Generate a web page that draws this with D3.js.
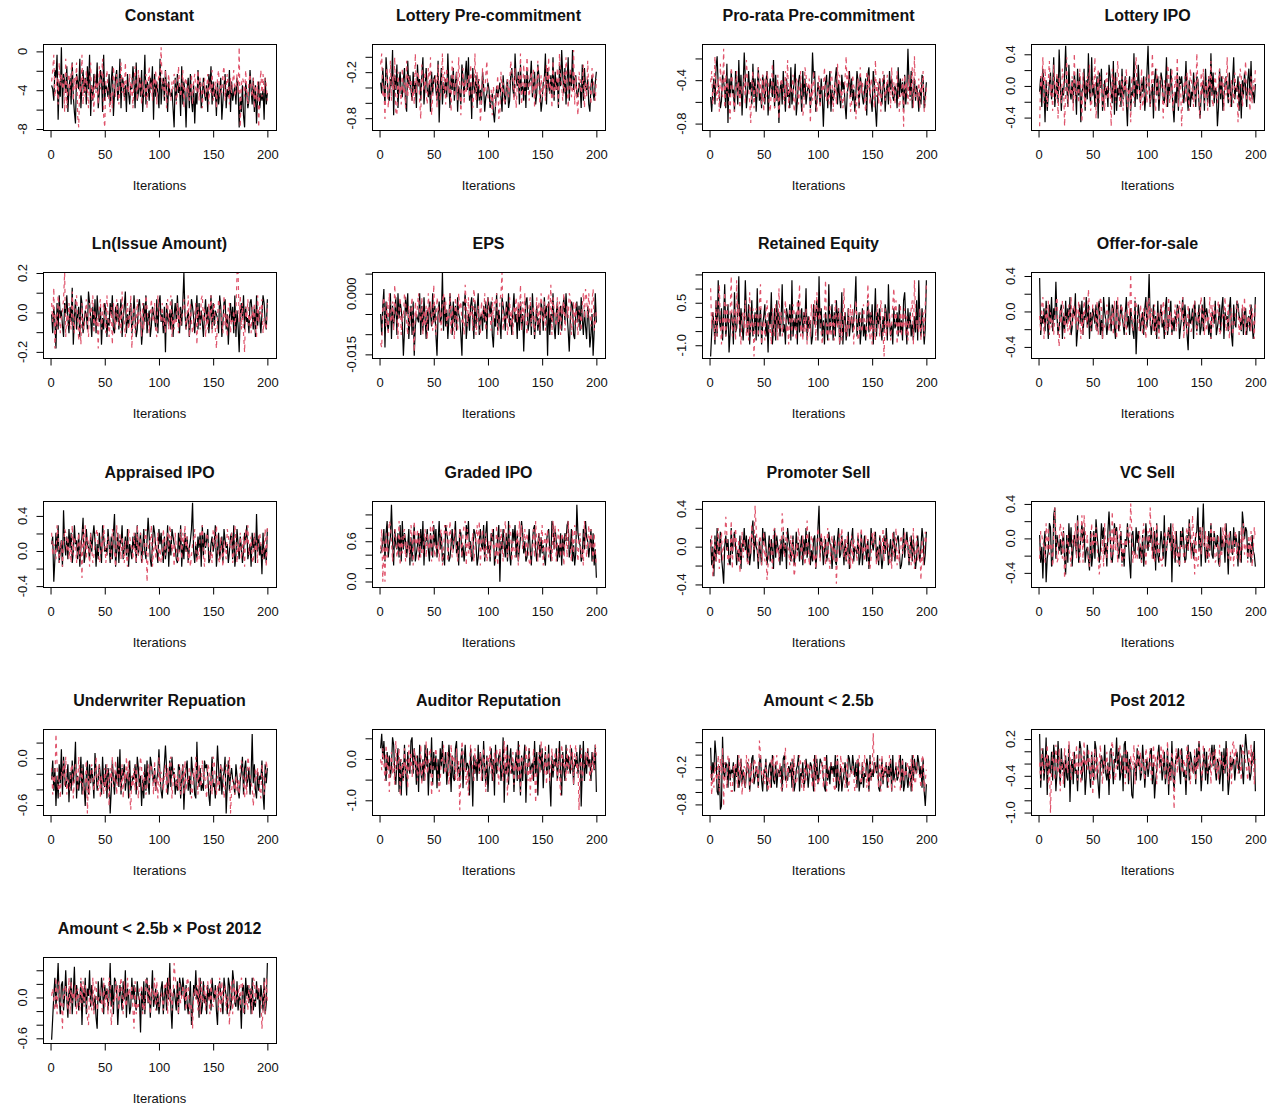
<!DOCTYPE html>
<html>
<head>
<meta charset="utf-8">
<script src="https://cdn.jsdelivr.net/npm/d3@7"></script>
<style>
  body { margin: 0; background: #fff; }
  svg { display: block; font-family: "Liberation Sans", Arial, sans-serif; }
</style>
</head>
<body>
<svg id="chart"></svg>
<script>
// Trace plots, two chains of 200 iterations per coefficient.
var panelTitles = ["Constant", "Lottery Pre-commitment", "Pro-rata Pre-commitment", "Lottery IPO",
  "Ln(Issue Amount)", "EPS", "Retained Equity", "Offer-for-sale",
  "Appraised IPO", "Graded IPO", "Promoter Sell", "VC Sell",
  "Underwriter Repuation", "Auditor Reputation", "Amount < 2.5b", "Post 2012",
  "Amount < 2.5b \u00d7 Post 2012"];

// plotted y range of each panel (bottom, top)
var yDomains = [[-8.1, 0.76], [-0.954, 0.167], [-0.859, -0.067], [-0.557, 0.53],
  [-0.231, 0.205], [-0.0159, 0.0054], [-1.45, 1.585], [-0.525, 0.445],
  [-0.41, 0.57], [-0.082, 1.2], [-0.427, 0.483], [-0.564, 0.434],
  [-0.728, 0.374], [-1.356, 0.725], [-0.97, 0.412], [-1.04, 0.364],
  [-0.669, 0.595]];

// value of code 0 and of code z in the chain strings below
var chainRanges = [[-10.58, 3.18], [-1.187, 0.467], [-1.067, 0.127], [-0.848, 0.848],
  [-0.336, 0.336], [-0.02258, 0.01358], [-2.53, 2.43], [-0.782, 0.722],
  [-0.652, 0.852], [-0.426, 1.686], [-0.668, 0.708], [-0.83, 0.77],
  [-1.048, 0.648], [-2.03, 1.05], [-1.294, 0.754], [-1.472, 0.576],
  [-0.888, 0.988]];

var yTickValues = [[0, -2, -4, -6, -8], [0, -0.2, -0.4, -0.6, -0.8], [-0.2, -0.4, -0.6, -0.8], [0.4, 0.2, 0, -0.2, -0.4],
  [0.2, 0.1, 0, -0.1, -0.2], [0.005, 0, -0.005, -0.01, -0.015], [1.5, 1, 0.5, 0, -0.5, -1], [0.4, 0.2, 0, -0.2, -0.4],
  [0.4, 0.2, 0, -0.2, -0.4], [1, 0.8, 0.6, 0.4, 0.2, 0], [0.4, 0.2, 0, -0.2, -0.4], [0.4, 0.2, 0, -0.2, -0.4],
  [0.2, 0, -0.2, -0.4, -0.6], [0.5, 0, -0.5, -1], [0.2, 0, -0.2, -0.4, -0.6, -0.8], [0.2, 0, -0.2, -0.4, -0.6, -0.8, -1],
  [0.4, 0.2, 0, -0.2, -0.4, -0.6]];

// "" = tick without label (R drops overlapping labels)
var yTickLabels = [["0", "", "-4", "", "-8"], ["", "-0.2", "", "", "-0.8"], ["", "-0.4", "", "-0.8"], ["0.4", "", "0.0", "", "-0.4"],
  ["0.2", "", "0.0", "", "-0.2"], ["", "0.000", "", "", "-0.015"], ["", "", "0.5", "", "", "-1.0"], ["0.4", "", "0.0", "", "-0.4"],
  ["0.4", "", "0.0", "", "-0.4"], ["", "", "0.6", "", "", "0.0"], ["0.4", "", "0.0", "", "-0.4"], ["0.4", "", "0.0", "", "-0.4"],
  ["", "0.0", "", "", "-0.6"], ["", "0.0", "", "-1.0"], ["", "", "-0.2", "", "", "-0.8"], ["0.2", "", "", "-0.4", "", "", "-1.0"],
  ["", "", "0.0", "", "", "-0.6"]];

var xTickValues = [0, 50, 100, 150, 200];
var nIter = 200;

// chain 1 (black) and chain 2 (red), one base-36 code per iteration
var blackChains = [
  "ihemkq9jfs cljgnbhkdo fb8ljhpcim gkdnhqaiel jhocgmkbqe ihfldjnagk mehpckjfib lgdihnjcoe gkfmbhqdji ekhn9lfjgc pdikemhbjg fhc7kelgia ndjg7hkcle bi8gdmhjcf kgeiblhndj fhajdgk9ei lchfmbjegi dkh7fbia7j gcemhdkbi8 fjcgeh9kdg",
  "ifmhcpkedj hr9kgnbilf ejmcaohkgd lfibnhjdkp chmgeialfj kgdo7hmcif jeqhbkgmdi lahfcnjeko gpdi8mhfkb jdgclhaefi gbdfa7cheg ieakfchjbd kmgeqjhlcn fhdkbmgijo ehlcfnkgad ijqcmhfkep dlgjbnhrkf mcipdlhrgj kfeihbndmh gjcahkfdil",
  "fbhkdnqigc eljhco8kfm ghbmjdpfla irkcgmhjdo fkbhnegcli djmagkhfpc lei8hjdmgb kfhcndgjoa ejlhbmfkdg ihcgrkmbej hdkf7gjlci mbhegkndjf clhjd9gimf kehbgmjcli fdhkalngeb mjc7fhkgdi lbgjdmhkfe ihcnfkgjbl dhsjfmcgke igbhdlkcfj",
  "gkcmh8jbfi lehpcgkdrj bhfksicnge jdlhamfk8g hmbjeqgdpf icgk9lhmbe jfhcnkgdoa lbhfjcmegk d7hkbgfqcj enhdjgkbfl shcgi9jmfk bgljedhpci fmhc8gdlbk ikgdhofbjc gelhckjd9f hjbmgdkcqf ldhg7cmekb fikhdlgcjp ehgkbi9jfl hcjmfoegdi",
  "hcjf8kdmgi ebkhmgcjfo 9gldhjbmkc fihdnkgbje lcmhfj9gdk ibgekhmdcj fkdhlbgjnc heikcfmgbd jlh9dkfmcg ibejhgdlck mfhcj7kgei dlbhkfmgcj ekshdgibfl jgchmdkeif bhlfjcgmdk eihgcmjbfk ldh9gkfjcm bie7hkgmdj fgcklhdjbm eigchmkfdl",
  "hcjn9kfdgm bjehlcmgki f7dlhmbgjc k7ehgfmcjd lgbidkhemf jc7hkfgrdl eibgmhckfj dlhgc7kjmb fhdjlgbkei mcghdjfkbl jhkc9gemdi fbljhdkgme gcimfhbjdk eh8gkldfjc mhbfjdgcki dlgj7kchfm ebhkcgjdil fmhd8gkjcb hkfjdlgcie bjg9ch7dmf",
  "8ejgbmdrhf kciqdgl9ej hboefjsdkg chrjelbgmd fjcpdhkbgi ldh9jgobfk cmfjdhqegb kiglcrdhfj bmehkdjgpc ifhbdlgjmc sfkdhbjgcq ehlcjdmgkb fobhjcfkdg iehlsdgjbf kdgchmejfl bhpdjgkfci eljcqhdgbk fgjdlehcmo hbkfjdgcie mcrhdkgbfr",
  "rchfjdlgbk fmdjgqhcei kbhdlfjgmc ejhn9dgkfl chgmekbidj hfkdjlcgbm igcfmhdkje bljdgkhfci mehcjgdbl7 fkhdgicjme jsgcfkdhbl dhkegbjmcf ilcgdhfkjb ehmdkgc8jf gjblhdfkce kdmgjhcfbi hflcegkdjm bighdjmc9k felkhgdjci jcghdkfbem",
  "hj7dkfmcgi bqhejdlgkc fmhidkbgjo celhgdkfjm ibhdkgcmjf gelhcjdkpb fkcihmdgje lbhfdjgkcm ehkcglfdio jdbhmkgfcl hkfcjdgmbi eljhgdckfm bhdkfjcgil sfchdjgkbm ekgilcdhjf hmbfkdgjcl ighcfjkdmb elhdjgcfki mdfhbkgjcp fjeh9kdgcl",
  "efhkcjmdgi qhbkgfjdlc mfjhdgkbic hlcegjdkfm bihkfcjgdl gkdhmfjceb ljhcdgkfim ehbkjdgcfl imfhcdkjgb dhkgflcjme gcjhkbdfil 7hfkgdjcme bgkhldjcfi mjehcdgkfb hklfcgjdie gdbhjkfcml fkhcgdjbie jhlmdfkcgb eqjhgcdkfm ihdgkcjbf8",
  "jch9kdmfgl eb7hkgjdcm fjlhcgdkbi hmgkdjcflo dkhgbjfcmi lhcfkdjgbm ekhgcjdlfi bmjhdgkcfl gidhkcjfme hlcgdjkbfm sekhcgjdfl ihbgkdcjme fkhcjdglbi jmdhgfkcel chkgdjbfmi gjldhckfbe kfmhcgjdil dhjkgbcfme ilhcgkdjfb ekgdhmjcfl",
  "jcg8hk7dfm lbcoqdjhfi ehkd9jcmgl bgjheocfim hlcfgdakbe kdnjgcfmil ehbkpjdcgm jlhdgkcfbi gmhc8jkfel hkdgcjbfmi fjhlgdkame cgkhdobfil hm7jgckfeb kglhcdjfni ehdgjkqflb jrhcgdkfme dkhgjcblfi hcmg9jkfel gjhbkdcpmi lkdhgcjfeb",
  "gldj9hbkfo cmhegkaidl fjqbhdgmck e9hlckfjgb nidgkhcmfe kbjh7dlgci fmeocjhkdg ibldfhgkcm jeh9gbkdlf cmkhfjdgio hdbgkpjcfl emhicgdkjb gk8fjldhcm ihcbqgejdf dljkhc9gme fbhpjdkcgi m7eldhjgfc khdbgimcjl egjchsfkdb idhglc8kfj",
  "qunsmhpkoi ltrjgmqend mhrkdpljst jqmgoerkhn hrlqdmjtgp kofnhqlsjm pgkrmeoihq sjlhnqfmrk mldqkaojnh rjpmhslgoe kmqhndrjlo phktbmjrgn qjmelphskd ohnrbkmqjl mhsjpdlrkq fmpkjrhaoi nlqhmsjdpk hrkoljqmgn lpjmraksho jqlnhpmkre",
  "ofkhqmcbj7 8rhgkjdlfi hkcjgmdfle ifdhkjcglm egjhdkmfci hlcgjkdmfe kdhigjclmf gfjhkdlcei jmchgkdfli dhkjgcmfle hlkjgdcmfi ekhjgmdlcf jcfhkgdmli hmjgkdlcfe kdhgljcmfi gkjhmdcfle ihkdjglcmf hjfgkmdlce kgdhjcmfli hmkgjdlc8e",
  "ufmqhltdok jphrnejslg qkmfoihrbl ngpjkemsqh lodirmjfpk hsqkgclomj rjhmdpqlgn mtkqhjoers jpgnldckmh qlohjrmfkn ilpqgmchko rlnhkpgjqd mhsjelonqk gqlikdmrhp nkjogqlsme jmqhpglkor lrkhnmgjpe qjsldhokmn hlpmjrqkgo uqnlhjpmse",
  "5bhmejqgck ldhogbjfmc ipekhdgl9j fmcjhoekgd hb8lgfmjck gjdhqekcml i9fkhdlgob jhcemgkfdl hg7jdlckmf kbhoegjdic fjlchkdmgq e8hjgdlcmk hmjdkfcgl9 dkhogjbmce lfhckgjdmi gkd9jlhfcm jhcmkdgolf eldhg8jkcm hkfjcmdgel gjbkhdmcfq"
];

var redChains = [
  "jmqfhkdoil hkbpcjlfmo ekhoa7jgqd kfmhcjoeib lgjdnhkpa7 jmhebgcnif lhdjogkeoh iglfkcjnhe mhkdjgflci ngjekhmdil kshjfmcilg ejhlkdgnif hmcjkfiegl djlhgmekic ikfhldjgme hjckmfigln eilhdkgjmf hlgs7ikjfm gdjlhfkcie j7hmflgkie",
  "nqeh8kmbgo dkgpa9lfhc mfiboekgjd hcqflkd8ni glfcmhp9ej ikbngdhqfl cmhfjaokeg ldph9gmcjf ikenhbfqdl hj7cmgfkoe dcg9hebfk8 alficdgjeh oljdmbhkfq cgnehpkdil fmbjgohcke hkdngpfjbo eigmcqkhdl fpjbhmegrc kd9ljfhnbi eoghcmkfdj",
  "jmdgqhekbo hfsclgjd9n kebhmfjcig gldpkhe8jm cihfngkdlb kfmjdbhogc iel9gkjhdm fpcighlbek jdhmfacnlg hk8jemgdbi lcgihnfejd gmkbhjdoil ehcfkqgmjb dlih9fkcng jgebmhldki hcpfjdkbgm kehlgicnfj dimhbfgk7l gjdlehncqf hekcjgmbdi",
  "7khpdmgcjo fibnhel9kg dmj7gpcihf kbqegjdmh8 lfcikgnbdj hp9fmdkgci bjlegh7mfk dhoicfkbjg mcgh8kjdlp fihbmcegkd jlcgqhdbmf ekih9jgcnl dgmbfkhpcj i7fhkdlgbm jgckeqhd9l fmdhjbkgoe chlgdjmfik bkfpehcjgd lhi8gmkcfj oefhbkdjgm",
  "kfo8hdmjcg ilsbhekgdn fcjmgah9ke dhlfbkgjmc ieg8jldhkf cmhbfj9kgd lhejcngfbi kdgm8hjcfl egibkdhmjf chlgfkdbmj hfkegcjldi mbhdgfkcje giljdhmbkf cehk9jgdlm fjbhdkgmci kd8gljhfcm ehbjkcgfid hssfmdkc7j glehcjfkdb mfjhlcgedk",
  "a9jlhekcmg fkdoihbjlc hgmkfcjeil d8kgjmhflc iejbmhkgdo gcljfidkmh kehgmcjfbl hdmikfgcoj elghjdnkcf jfckhgmdil ghdlfkjmce kmrdhgjcfl eicjhlfkgo dkfmgchjle hjcglekdmi fkdhjmgocl igelfkcjhm dhjgmlcfke kfcihdjmgn lgmhekndfi",
  "pfjhcmdkqg bieodlhgjs dhkcrglfbi jfmdhcoegk 8gkidlqbfh cjmhegbkfd lhcpfjdgim egbkhdljfc mhqdgcjekb fidlhgmcoj hkebfjrdgc ldgicmhfkb jchpegdkfl gkbimhcdjf elhgdqkcjb hfcjlgdmke 8kdhfjcglp gmbheldjfk dichgkmbrj fhekcgjdlq",
  "hdkmbgjflc iegchkmd9j fljbhgdkcm ehkfjdlgbi cmgheojdfk jhdlcgmkbf egkidhfjcl hbmfdjkgei cjlhsfdgmk ifdkhcjgbl gmejhdkcfi bhkfljcgdm eichgkdjfl jgmbhfcked dhklgcifjm fjcidhgmbk ekhgjlcdfi hmdfkbgjce giljchdkfm cfhekdjgbl",
  "kehgdmjcfi bhlkfjdgcm ejhcgkdi8l fmdjhbkgce hklgcdjfmi cgjhedlkfb mhfkdjgcie bljhgdkfcm ehkcdgjl7f ihmbfjdgkc gcdlhejkfm jfhbkgdcil dkhmfjcgbe hilgcfdkjm ebhkjgdfcl kgmhdcjfbi fdljhgkcem ichfkdgjbl hmegjdckfi cjkhfdglbm",
  "fk7h7jdgml hcgkjdfmbi ejkchfgdli bmhgkcjdfe hkdjgflcmi dgfhcjkbel jlchmgdfki fcgkhdjlmb kehdgjcfil gmbhkfdjce hdjkfgclbi ekgcjmhdfl jchfdgkbmi lfhkdjgcbe gkdmhcjfil bhjekdgfcm flcgkhdjib hjdmgfckel kgchjdfbmi dhlfkgcjeb",
  "hk9cjdfmbi ldhjpkcfeo bkhmgdjafl ejhgcdkfni gsmhdjkcfl dh8cgjfblm kfhdjgqmei lhgckdj9bi emjhdkgcfo hcgkjdfbim jdlhgkcfme bhkdgj7fil gmhejdkcfb kcjhgdlfim fhdkgjcbel ilhcgdkjfm dkgjhcfble hmcgdjkfil gjhdkcfmbe kdhg8jcfli",
  "dkjhgcmfle hgbkqjcdim kdl8cgjfeb hjgmdnkcio cokhjdbfme jhlgd9cfib mgdhjkcpel fkcgmjbhdi gljhrkcfde dhkgcjmfbi kgqhdlcfme hcdbgjkfil jfhmdkecgb gkhdcjlfmi doj9kcbfle lhgkdjcfmi hkcdgjbfel gmhjdkcfib jkdhgclfme hgcjdkbfli",
  "jchfskdgbi hlemcgfdjk bgkidmhfjc efl7hcjkgd imgdkbhfcj dkh9jfmegl chjgdkbifm glc8hejdkf bhmjdigcek fjkhcldgbm eigdhkcjfl mbfjgehdkc hkcldgfjib djgmhckfel giebkjdhcm lfchdgkjib ekjhm7dgfc hdgcjlkfbi cmkhfe9djg jgdbkhcfli",
  "nkqmhrjoel pjmgsklqdn mhqjnfrkpi lqkohmjrgm nhsjlpqdkm oqljehnmrk jmpgkrlonh qhn9jspkmg kdmrojhqln mjphlqkeno lrjnhpmqkg qmkhsjrdon jlpgmkqhre onmjrlhqdk hqlbkmpjsn mjrgnphlqk kpmhqjdrnl nhqjmrkpgo rjm9lqhkmp lqnhmjpkro",
  "jbhdkgfmcl ho8kgdmlfc cjhkgdmflb gjdmhlckfe lkgjdqmhfi ekhcgdljmf jmhgkdcflo dkhgjlcmfe gjmkdhclfi khjgdlcmie fgjkdmlchi jkhgdclmfe mhkjdglcfi hjgcdlkmfe kgmjdhclfi shkjgdlcmf jgkhdmlcfe dkjgmchlfi gjkhdlcmfe kjhgdmlcfi",
  "mhqkjolrgn 8kpmhrljqe nlgqkmjsoh kpmjrhlqgo jslnkqmhpd lqhojmrkgn mkpjlhqsoi hnlqrkjmpg qjmhoklrgn lrkpjnmhqo kmqhjrlogp njrlqkhmsg lhpm9kqjon qkjnlhrmpg mljqhoksnk hrmlkjpqgo pkqjmhrlno jmlqhkpgrs lqnjkmhrpo mkhqjrlpgn",
  "hjgdmcklef 8jhkgdmclf igkcjhdmfl ekhb9jgdmc kldghjfcme hjcmk9dgfl gkdjmhclfe mhjgkd8lcf ejhkcgdmlf kcjhgmdlfe higdkjlcmf jdhqmkgclf hkgjdmlcfe 8hjgkdmclf gkdjlhcmfe hjgkdmclfi kdhg9jlcmf jghkdmlcfe hdkgjcmlfi kjgh8dlcmf"
];

var width = 1270, height = 1107;
var boxW = 233, boxH = 86;
var colStep = 329.4, rowStep = 228.35;

var svg = d3.select("#chart")
    .attr("width", width)
    .attr("height", height);

// R pads the data range by 4% on each side
var x = d3.scaleLinear()
    .domain([1 - 0.04 * (nIter - 1), nIter + 0.04 * (nIter - 1)])
    .range([0, boxW]);

function decodeChain(codes, range) {
  return codes.replace(/\s+/g, "").split("").map(function(c, i) {
    return {iter: i + 1, value: range[0] + parseInt(c, 36) / 35 * (range[1] - range[0])};
  });
}

panelTitles.forEach(function(title, i) {
  var col = i % 4, row = Math.floor(i / 4);
  var g = svg.append("g")
      .attr("transform", "translate(" + Math.round(43 + col * colStep) + "," + Math.round(44 + row * rowStep) + ")");

  var y = d3.scaleLinear().domain(yDomains[i]).range([boxH, 0]);

  var line = d3.line()
      .x(function(d) { return x(d.iter); })
      .y(function(d) { return y(d.value); });

  g.append("clipPath")
      .attr("id", "clip" + i)
    .append("rect")
      .attr("width", boxW)
      .attr("height", boxH);

  g.append("path")
      .datum(decodeChain(blackChains[i], chainRanges[i]))
      .attr("d", line)
      .attr("fill", "none")
      .attr("stroke", "#000")
      .attr("stroke-width", 1.2)
      .attr("clip-path", "url(#clip" + i + ")");

  g.append("path")
      .datum(decodeChain(redChains[i], chainRanges[i]))
      .attr("d", line)
      .attr("fill", "none")
      .attr("stroke", "#DF536B")
      .attr("stroke-width", 1.2)
      .attr("stroke-dasharray", "4,4")
      .attr("clip-path", "url(#clip" + i + ")");

  g.append("rect")
      .attr("x", 0.5)
      .attr("y", 0.5)
      .attr("width", boxW)
      .attr("height", boxH)
      .attr("fill", "none")
      .attr("stroke", "#000")
      .attr("stroke-width", 1);

  // x axis
  var xa = g.append("g")
      .attr("transform", "translate(0," + (boxH + 0.5) + ")")
      .call(d3.axisBottom(x).tickValues(xTickValues).tickSize(7).tickPadding(12.5));
  xa.attr("font-size", 13).attr("font-family", null);
  xa.select(".domain").remove();
  xa.selectAll("line").attr("stroke", "#000");
  xa.selectAll("text").attr("fill", "#111");

  // y axis, labels drawn rotated like R
  var ya = g.append("g")
      .attr("transform", "translate(0.5,0)")
      .call(d3.axisLeft(y).tickValues(yTickValues[i]).tickSize(7).tickFormat(""));
  ya.select(".domain").remove();
  ya.selectAll("line").attr("stroke", "#000");

  yTickValues[i].forEach(function(t, j) {
    if (!yTickLabels[i][j]) return;
    g.append("text")
        .attr("transform", "translate(-16," + y(t) + ") rotate(-90)")
        .attr("text-anchor", "middle")
        .attr("font-size", 13)
        .attr("fill", "#111")
        .text(yTickLabels[i][j]);
  });

  g.append("text")
      .attr("x", boxW / 2)
      .attr("y", -23)
      .attr("text-anchor", "middle")
      .attr("font-size", 16)
      .attr("font-weight", "bold")
      .attr("fill", "#111")
      .text(title);

  g.append("text")
      .attr("x", boxW / 2)
      .attr("y", boxH + 59.5)
      .attr("text-anchor", "middle")
      .attr("font-size", 13)
      .attr("fill", "#111")
      .text("Iterations");
});
</script>
</body>
</html>
